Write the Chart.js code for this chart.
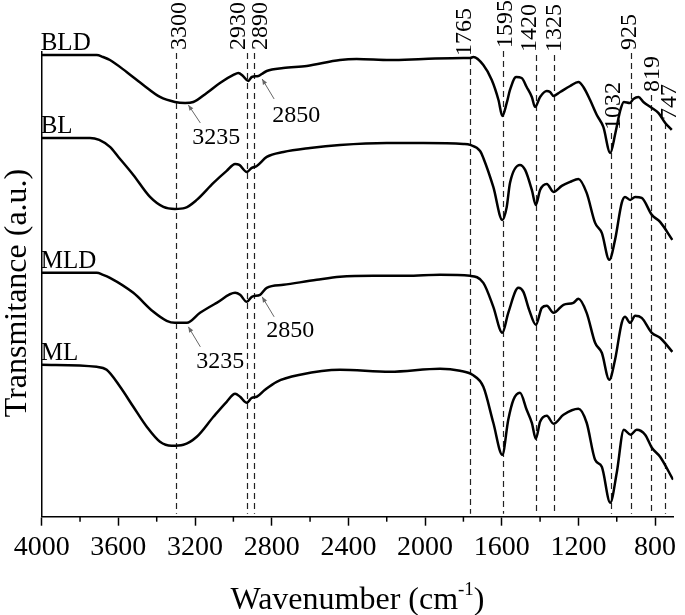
<!DOCTYPE html>
<html>
<head>
<meta charset="utf-8">
<script src="https://cdn.jsdelivr.net/npm/chart.js@4"></script>
<style>body{margin:0;background:#fff}</style>
</head>
<body>
<canvas id="Chart-1" width="685" height="615"></canvas>
<script>
// FTIR spectra, wavenumber (cm-1) vs transmittance (a.u., offset per sample)
var wnBLD = [4000,3713,3680,3644,3557,3470,3383,3305,3252,3209,3139,3070,3000,2974,2950,2922,2904,2870,2852,2826,2740,2617,2444,2357,2183,2009,1800,1765,1748,1696,1652,1617,1597,1574,1557,1525,1496,1470,1443,1426,1400,1365,1348,1330,1295,1243,1200,1174,1139,1104,1070,1034,1007,981,963,932,913,887,861,817,783,747,713];
var trBLD = [462,462,460,457,445,432,420,415,414,415,424,434,442,444,441,436,440,441,443,446,449,451,457,458,457,458,459,459,460,452,437,417,401,414,427,440,439,430,420,410,420,426,425,421,425,431,435,430,417,402,390,364,384,407,415,414,418,420,415,409,404,394,387];

var wnBL = [4000,3748,3700,3644,3600,3522,3435,3365,3305,3252,3191,3104,3035,2991,2969,2930,2904,2878,2826,2739,2600,2444,2200,2009,1800,1765,1713,1696,1644,1597,1574,1557,1505,1478,1443,1422,1400,1365,1330,1287,1243,1200,1157,1113,1078,1039,1009,974,957,930,904,870,817,774,710];
var trBL = [379,379,377,370,360,342,320,310,308,309,317,334,346,353,352,345,349,351,360,365,369,372,374,374,373,372,366,359,330,297,310,334,352,347,327,312,327,333,325,331,335,338,324,294,284,257,277,314,320,317,320,319,302,295,277];

var wnMLD = [4000,3713,3680,3644,3522,3417,3348,3305,3243,3174,3087,2991,2965,2930,2904,2861,2826,2739,2565,2444,2270,2096,1922,1765,1696,1644,1597,1566,1513,1487,1457,1422,1391,1365,1330,1278,1226,1200,1157,1113,1078,1039,1009,974,957,930,904,870,817,774,710];
var trMLD = [244,244,242,239,224,205,196,194,194,204,214,224,222,215,220,222,229,232,237,240,241,241,242,241,234,210,184,204,229,225,207,192,209,211,204,212,214,218,204,174,164,137,157,194,200,194,201,199,184,179,165];

var wnML = [4000,3713,3661,3591,3522,3452,3383,3322,3261,3191,3104,3035,2991,2965,2930,2904,2878,2835,2774,2652,2444,2183,1922,1818,1753,1696,1644,1597,1566,1539,1505,1470,1443,1422,1400,1365,1330,1278,1200,1157,1113,1078,1034,1000,963,928,896,852,817,774,706];
var trML = [152,150,147,130,110,90,75,71,72,80,100,115,123,120,114,119,120,127,135,142,147,145,148,146,142,130,94,62,97,117,124,107,94,78,95,101,93,102,108,94,57,50,14,44,87,82,87,82,69,60,37];

var sampleNames = ["BLD", "BL", "MLD", "ML"];
var peaks = [3300, 2930, 2890, 1765, 1595, 1420, 1325, 1032, 925, 819, 747];

// where each peak label sits (px shift from its line, bottom of text)
var peakLabelPos = {
  3300: [2, 50], 2930: [-10, 50], 2890: [5, 50], 1765: [-7, 56], 1595: [1, 48],
  1420: [-8, 52], 1325: [-1, 52], 1032: [1, 130], 925: [-3, 50], 819: [0, 92], 747: [3, 120]
};

// arrow notes: text, tip (wavenumber, transmittance), tail offset, text offset
var notes = [
  {text: "3235", wn: 3235, tr: 412, tail: [12, 18], label: [28, 33]},
  {text: "2850", wn: 2850, tr: 438, tail: [12, 20], label: [34, 37]},
  {text: "3235", wn: 3235, tr: 190, tail: [12, 20], label: [32, 35]},
  {text: "2850", wn: 2850, tr: 220, tail: [12, 20], label: [28, 34]}
];

var serif = "'Liberation Serif', 'Times New Roman', serif";

function toPoints(wn, tr) {
  return wn.map(function (w, i) { return {x: w, y: tr[i]}; });
}

var series = [[wnBLD, trBLD], [wnBL, trBL], [wnMLD, trMLD], [wnML, trML]];

var decor = {
  id: "decor",
  beforeDatasetsDraw: function (chart) {
    var ctx = chart.ctx, xs = chart.scales.x, area = chart.chartArea;
    ctx.save();
    ctx.strokeStyle = "#222";
    ctx.lineWidth = 1.2;
    ctx.setLineDash([6, 4]);
    peaks.forEach(function (p) {
      var x = Math.round(xs.getPixelForValue(p)) + 0.5;
      ctx.beginPath();
      ctx.moveTo(x, peakLabelPos[p][1] + 3);
      ctx.lineTo(x, area.bottom - 3);
      ctx.stroke();
    });
    ctx.setLineDash([]);

    // peak labels, rotated
    ctx.fillStyle = "#000";
    ctx.font = "24px " + serif;
    ctx.textAlign = "left";
    ctx.textBaseline = "alphabetic";
    peaks.forEach(function (p) {
      var cx = xs.getPixelForValue(p) + peakLabelPos[p][0];
      ctx.save();
      ctx.translate(cx + 8, peakLabelPos[p][1]);
      ctx.rotate(-Math.PI / 2);
      ctx.fillText(String(p), 0, 0);
      ctx.restore();
    });
    ctx.restore();
  },
  afterDraw: function (chart) {
    var ctx = chart.ctx, xs = chart.scales.x, ys = chart.scales.y, area = chart.chartArea;
    ctx.save();
    // minor ticks
    ctx.strokeStyle = "#000";
    ctx.lineWidth = 1.5;
    for (var v = 1000; v < 4000; v += 400) {
      var x = xs.getPixelForValue(v);
      ctx.beginPath();
      ctx.moveTo(x, area.bottom);
      ctx.lineTo(x, area.bottom + 5);
      ctx.stroke();
    }

    // sample names above each curve start
    ctx.fillStyle = "#000";
    ctx.font = "25px " + serif;
    ctx.textAlign = "left";
    ctx.textBaseline = "alphabetic";
    series.forEach(function (s, i) {
      ctx.fillText(sampleNames[i], area.left - 1, ys.getPixelForValue(s[1][0]) - 5);
    });

    // arrows with labels
    ctx.strokeStyle = "#666";
    ctx.fillStyle = "#666";
    ctx.lineWidth = 1;
    notes.forEach(function (n) {
      var tx = xs.getPixelForValue(n.wn), ty = ys.getPixelForValue(n.tr);
      var ex = tx + n.tail[0], ey = ty + n.tail[1];
      ctx.beginPath();
      ctx.moveTo(ex, ey);
      ctx.lineTo(tx, ty);
      ctx.stroke();
      var a = Math.atan2(ty - ey, tx - ex);
      ctx.beginPath();
      ctx.moveTo(tx, ty);
      ctx.lineTo(tx - 6 * Math.cos(a - 0.4), ty - 6 * Math.sin(a - 0.4));
      ctx.lineTo(tx - 6 * Math.cos(a + 0.4), ty - 6 * Math.sin(a + 0.4));
      ctx.closePath();
      ctx.fill();
    });
    ctx.fillStyle = "#000";
    ctx.font = "24px " + serif;
    ctx.textAlign = "center";
    ctx.textBaseline = "middle";
    notes.forEach(function (n) {
      var tx = xs.getPixelForValue(n.wn), ty = ys.getPixelForValue(n.tr);
      ctx.fillText(n.text, tx + n.label[0], ty + n.label[1]);
    });

    // x title with superscript
    var cx = (area.left + area.right) / 2, by = 609;
    ctx.textAlign = "left";
    ctx.textBaseline = "alphabetic";
    ctx.font = "32px " + serif;
    var p1 = "Wavenumber (cm", p3 = ")";
    var w1 = ctx.measureText(p1).width, w3 = ctx.measureText(p3).width;
    ctx.font = "19px " + serif;
    var w2 = ctx.measureText("-1").width;
    var sx = cx - (w1 + w2 + w3) / 2;
    ctx.font = "32px " + serif;
    ctx.fillText(p1, sx, by);
    ctx.fillText(p3, sx + w1 + w2, by);
    ctx.font = "19px " + serif;
    ctx.fillText("-1", sx + w1, by - 14);

    // y title
    ctx.font = "32px " + serif;
    ctx.textAlign = "center";
    ctx.translate(26, 293);
    ctx.rotate(-Math.PI / 2);
    ctx.fillText("Transmitance (a.u.)", 0, 0);
    ctx.restore();
  }
};

new Chart("Chart-1", {
  type: "line",
  data: {
    datasets: series.map(function (s, i) {
      return {
        label: sampleNames[i],
        data: toPoints(s[0], s[1]),
        borderColor: "#000",
        borderWidth: 2.5,
        pointRadius: 0,
        fill: false,
        cubicInterpolationMode: "monotone"
      };
    })
  },
  options: {
    responsive: false,
    animation: false,
    layout: {padding: {top: 52, right: 11.7, left: 0, bottom: 0}},
    plugins: {legend: {display: false}, tooltip: {enabled: false}},
    scales: {
      x: {
        type: "linear",
        reverse: true,
        min: 705,
        max: 4000,
        afterFit: function (s) { s.height = 98.3; },
        border: {display: true, color: "#000", width: 1.5},
        grid: {
          drawOnChartArea: false,
          drawTicks: true,
          tickLength: 9,
          tickWidth: 1.5,
          tickColor: function (c) { return c.tick && c.tick.value % 400 === 0 ? "#000" : "rgba(0,0,0,0)"; }
        },
        ticks: {
          stepSize: 200,
          includeBounds: false,
          autoSkip: false,
          maxRotation: 0,
          padding: 5,
          color: "#000",
          font: {family: serif, size: 28},
          callback: function (v) { return v % 400 === 0 ? String(v) : ""; }
        }
      },
      y: {
        min: 0,
        max: 465,
        afterFit: function (s) { s.width = 41.7; },
        border: {display: true, color: "#000", width: 1.5},
        grid: {display: false},
        ticks: {display: false}
      }
    }
  },
  plugins: [decor]
});
</script>
</body>
</html>
